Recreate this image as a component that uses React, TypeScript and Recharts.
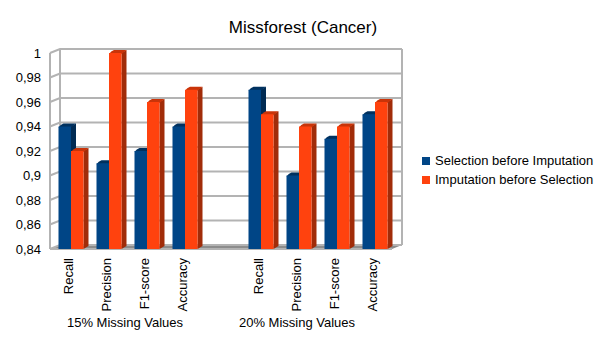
import { ComposedChart, Bar, XAxis, YAxis, Legend, ReferenceLine, ReferenceArea } from "recharts";

const categories = ["Recall", "Precision", "F1-score", "Accuracy", "", "Recall", "Precision", "F1-score", "Accuracy"];
const selectionFirst = [0.94, 0.91, 0.92, 0.94, null, 0.97, 0.9, 0.93, 0.95];
const imputationFirst = [0.92, 1, 0.96, 0.97, null, 0.95, 0.94, 0.94, 0.96];
const yTicks = [0.84, 0.86, 0.88, 0.9, 0.92, 0.94, 0.96, 0.98, 1];

const rows = categories.map((name, i) => ({
  key: `${i}-${name}`,
  name,
  selection: selectionFirst[i],
  imputation: imputationFirst[i],
}));

const FONT = "'Liberation Sans', Arial, sans-serif";
const GRID = "#b3b3b3";
const DEPTH_X = 10;
const DEPTH_Y = 4;

function Bar3D({ x, y, width, height, fill, side, top }: any) {
  if (height == null || y == null) return null;
  const dx = 1.5;
  const l = x + dx;
  const r = l + width;
  const b = y + height;
  const d = 5;
  const u = 3;
  return (
    <g>
      <polygon points={`${r},${y} ${r + d},${y - u} ${r + d},${b - u} ${r},${b}`} fill={side} />
      <path
        d={`M${l},${y + 1} Q${l + 2},${y - u + 1} ${l + d},${y - u} L${r + d},${y - u} L${r},${y + 1} Z`}
        fill={top}
      />
      <rect x={l} y={y} width={width} height={height} fill={fill} />
    </g>
  );
}

const SelectionBar = (p: any) => <Bar3D {...p} fill="#004586" side="#002b53" top="#00315f" />;
const ImputationBar = (p: any) => <Bar3D {...p} fill="#ff420e" side="#a12c09" top="#c93409" />;

function Walls({ x, y, width, height }: any) {
  const b = y + height;
  return (
    <g fill="none" stroke={GRID} strokeWidth={2}>
      <line x1={x + DEPTH_X} y1={y - DEPTH_Y} x2={x + DEPTH_X} y2={b - DEPTH_Y} />
      <line x1={x + width + DEPTH_X} y1={y - DEPTH_Y} x2={x + width + DEPTH_X} y2={b - DEPTH_Y} />
      <polygon
        points={`${x},${b} ${x + DEPTH_X},${b - DEPTH_Y} ${x + width + DEPTH_X},${b - DEPTH_Y} ${x + width},${b}`}
        fill="#8c8c8c"
        stroke="none"
      />
      <line x1={x} y1={b} x2={x + width} y2={b} />
      <line x1={x} y1={y} x2={x} y2={b} />
    </g>
  );
}

function GridRow({ x1, y1, x2, y2 }: any) {
  return (
    <polyline
      points={`${x1},${y1} ${x1 + DEPTH_X},${y1 - DEPTH_Y} ${x2 + DEPTH_X},${y2 - DEPTH_Y}`}
      fill="none"
      stroke={GRID}
      strokeWidth={2}
    />
  );
}

function CategoryTick({ x, y, payload, index }: any) {
  const label = categories[index ?? payload.index] ?? "";
  return (
    <text
      transform={`translate(${x + 4},${y + 1}) rotate(-90)`}
      textAnchor="end"
      fontSize={13}
      fontFamily={FONT}
      fill="#000"
    >
      {label}
    </text>
  );
}

function LegendBox({ payload }: any) {
  return (
    <div style={{ fontFamily: FONT, fontSize: 13, color: "#000" }}>
      {(payload ?? []).map((entry: any) => (
        <div key={entry.value} style={{ display: "flex", alignItems: "center", height: 19 }}>
          <span style={{ width: 8, height: 8, background: entry.color, marginRight: 5 }} />
          {entry.value}
        </div>
      ))}
    </div>
  );
}

export default function App() {
  return (
    <div style={{ position: "absolute", left: 0, top: 0, width: 605, height: 340, background: "#fff" }}>
      <ComposedChart
        width={605}
        height={340}
        data={rows}
        barSize={12.5}
        barGap={0}
        margin={{ top: 53, right: 213, bottom: 0, left: 0 }}
      >
        <text x={303} y={33} textAnchor="middle" fontSize={17} fontFamily={FONT} fill="#000">
          Missforest (Cancer)
        </text>
        <XAxis
          dataKey="key"
          height={91}
          interval={0}
          axisLine={false}
          tickLine={false}
          tick={<CategoryTick />}
        />
        <YAxis
          width={50}
          domain={[0.84, 1]}
          ticks={yTicks}
          axisLine={false}
          tickLine={false}
          tickFormatter={(v: number) => String(v).replace(".", ",")}
          tick={{ fontSize: 13, fontFamily: FONT, fill: "#000" }}
          tickMargin={3}
        />
        <ReferenceArea y1={0.84} y2={1} fill="none" ifOverflow="visible" shape={<Walls />} zIndex={0} />
        {yTicks.map((t) => (
          <ReferenceLine key={t} y={t} ifOverflow="visible" shape={<GridRow />} zIndex={1} />
        ))}
        <Bar
          dataKey="selection"
          name="Selection before Imputation"
          fill="#004586"
          shape={<SelectionBar />}
          isAnimationActive={false}
        />
        <Bar
          dataKey="imputation"
          name="Imputation before Selection"
          fill="#ff420e"
          shape={<ImputationBar />}
          isAnimationActive={false}
        />
        <Legend
          layout="horizontal"
          verticalAlign="middle"
          align="center"
          itemSorter={null}
          content={<LegendBox />}
          wrapperStyle={{ left: 422, top: 151, width: 180 }}
        />
        <text x={125} y={327} textAnchor="middle" fontSize={13} fontFamily={FONT} fill="#000">
          15% Missing Values
        </text>
        <text x={297} y={327} textAnchor="middle" fontSize={13} fontFamily={FONT} fill="#000">
          20% Missing Values
        </text>
      </ComposedChart>
    </div>
  );
}
